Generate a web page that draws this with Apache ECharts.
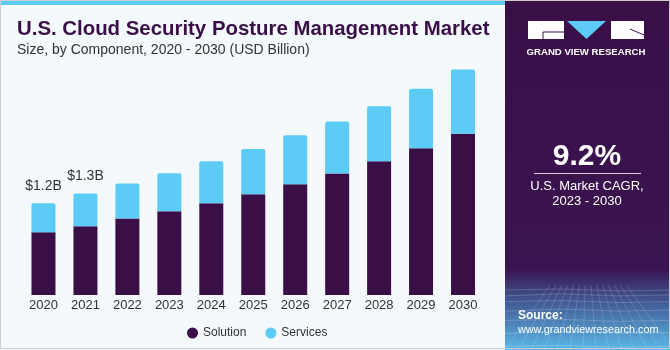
<!DOCTYPE html>
<html><head><meta charset="utf-8">
<script src="https://cdn.jsdelivr.net/npm/echarts@6/dist/echarts.min.js"></script>
<style>html,body{margin:0;padding:0;background:#f4f9fd;}#c{width:670px;height:350px;}</style>
</head><body><div id="c"></div>
<script>
const years = ['2020','2021','2022','2023','2024','2025','2026','2027','2028','2029','2030'];
const solution = [0.82, 0.90, 1.00, 1.095, 1.20, 1.32, 1.45, 1.59, 1.75, 1.92, 2.11];
const services = [0.38, 0.43, 0.46, 0.50, 0.55, 0.59, 0.64, 0.68, 0.72, 0.78, 0.84];
const topLabels = ['$1.2B', '$1.3B', '', '', '', '', '', '', '', '', ''];

const chart = echarts.init(document.getElementById('c'), null, {renderer: 'canvas'});
const servicesData = services.map((v, i) => topLabels[i] ? {
  value: v,
  label: {show: true, position: 'top', distance: 10, formatter: topLabels[i],
          fontSize: 14, color: '#333', fontFamily: 'Liberation Sans'}
} : v);

// decorative mesh in the bottom of the side panel
const mesh = [];
for (let k = 0; k < 8; k++) {
  const y = 290 + k * k * 0.9 + k * 4;
  mesh.push({type: 'polyline', z: 11, silent: true,
    shape: {points: [[505, y + (k % 2)], [560, y - 1], [620, y + 1], [670, y]]},
    style: {stroke: 'rgba(255,255,255,0.18)', lineWidth: 1, fill: null}});
}
for (let k = 0; k < 14; k++) {
  const xb = 505 + k * 13;
  mesh.push({type: 'polyline', z: 11, silent: true,
    shape: {points: [[587 + (xb - 587) * 0.45, 285], [xb, 350]]},
    style: {stroke: 'rgba(255,255,255,0.15)', lineWidth: 1, fill: null}});
}

chart.setOption({
  backgroundColor: '#f4f9fd',
  animation: false,
  grid: {left: 22.5, right: 670 - 484, top: 65.8, bottom: 55, containLabel: false},
  xAxis: {
    type: 'category', data: years,
    axisLine: {show: false}, axisTick: {show: false},
    axisLabel: {fontSize: 13, color: '#333', margin: 4, fontFamily: 'Liberation Sans'}
  },
  yAxis: {type: 'value', min: 0, max: 3, show: false, splitLine: {show: false}},
  legend: {
    top: 322, left: 182, itemGap: 19, icon: 'circle', itemWidth: 11, itemHeight: 11,
    textStyle: {fontSize: 12, color: '#333', fontFamily: 'Liberation Sans'},
    data: ['Solution', 'Services']
  },
  series: [
    {name: 'Solution', type: 'bar', stack: 'a', data: solution, barWidth: 24,
     itemStyle: {color: '#3a0f48'}},
    {name: 'Services', type: 'bar', stack: 'a', data: servicesData, barWidth: 24,
     itemStyle: {color: '#5ccbf6', borderRadius: [2, 2, 0, 0]}}
  ],
  graphic: [
    {type: 'rect', shape: {x: 0, y: 0, width: 505, height: 5}, style: {fill: '#5ccbf6'}, z: 10},
    {type: 'rect', shape: {x: 505, y: 0, width: 165, height: 350},
     style: {fill: new echarts.graphic.LinearGradient(0, 0, 0, 1, [
       {offset: 0, color: '#3a0f48'}, {offset: 0.77, color: '#3a1450'},
       {offset: 0.84, color: '#3f4a86'}, {offset: 1, color: '#5ab8e8'}])}, z: 10},
    ...mesh,
    {type: 'rect', shape: {x: 528, y: 21, width: 36, height: 18}, style: {fill: '#ffffff'}, z: 11},
    {type: 'polygon', shape: {points: [[567, 21], [606, 21], [586.5, 39]]}, style: {fill: '#5ccbf6'}, z: 11},
    {type: 'rect', shape: {x: 611, y: 21, width: 33, height: 18}, style: {fill: '#ffffff'}, z: 11},
    {type: 'polyline', shape: {points: [[543, 32], [564, 32]]}, style: {stroke: '#3a0f48', lineWidth: 1}, z: 12},
    {type: 'polyline', shape: {points: [[543, 32], [543, 39]]}, style: {stroke: '#3a0f48', lineWidth: 1}, z: 12},
    {type: 'polyline', shape: {points: [[630, 29], [644, 35]]}, style: {stroke: '#3a0f48', lineWidth: 1}, z: 12},
    {type: 'text', x: 586, y: 52, z: 11, style: {text: 'GRAND VIEW RESEARCH', fill: '#ffffff',
      font: 'bold 9.6px "Liberation Sans"', textAlign: 'center', textVerticalAlign: 'middle'}},
    {type: 'text', x: 587, y: 157, z: 11, style: {text: '9.2%', fill: '#ffffff',
      font: 'bold 30px "Liberation Sans"', textAlign: 'center', textVerticalAlign: 'middle'}},
    {type: 'rect', shape: {x: 534, y: 173, width: 107, height: 1}, style: {fill: '#d8d0e0'}, z: 11},
    {type: 'text', x: 587, y: 186, z: 11, style: {text: 'U.S. Market CAGR,', fill: '#ffffff',
      font: '13px "Liberation Sans"', textAlign: 'center', textVerticalAlign: 'middle'}},
    {type: 'text', x: 587, y: 201, z: 11, style: {text: '2023 - 2030', fill: '#ffffff',
      font: '13px "Liberation Sans"', textAlign: 'center', textVerticalAlign: 'middle'}},
    {type: 'text', x: 518, y: 316, z: 12, style: {text: 'Source:', fill: '#ffffff',
      font: 'bold 12px "Liberation Sans"', textAlign: 'left', textVerticalAlign: 'middle'}},
    {type: 'text', x: 518, y: 330, z: 12, style: {text: 'www.grandviewresearch.com', fill: '#ffffff',
      font: '10.8px "Liberation Sans"', textAlign: 'left', textVerticalAlign: 'middle'}},
    {type: 'text', x: 17, y: 29, z: 11, style: {text: 'U.S. Cloud Security Posture Management Market', fill: '#3a0f48',
      font: 'bold 20.4px "Liberation Sans"', textAlign: 'left', textVerticalAlign: 'middle'}},
    {type: 'text', x: 17, y: 50, z: 11, style: {text: 'Size, by Component, 2020 - 2030 (USD Billion)', fill: '#333333',
      font: '14px "Liberation Sans"', textAlign: 'left', textVerticalAlign: 'middle'}},
    {type: 'rect', shape: {x: 0.5, y: 0.5, width: 669, height: 348}, style: {fill: 'none', stroke: '#cccccc', lineWidth: 1}, z: 20}
  ]
});
</script></body></html>
